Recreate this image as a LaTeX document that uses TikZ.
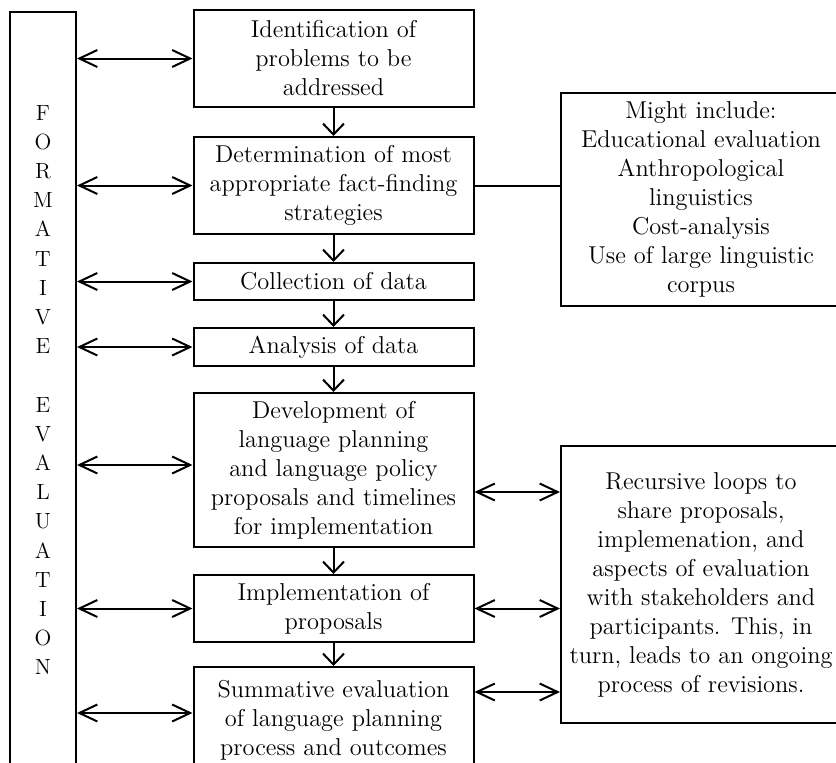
\documentclass[tikz,border=0pt]{standalone}
\usetikzlibrary{arrows.meta,calc}
\begin{document}
\begin{tikzpicture}[x=0.5pt, y=-0.5pt, every node/.style={font=\fontsize{12.2}{14.5}\selectfont},
		box/.style={draw, line width=1pt, align=center, minimum width=140pt, inner sep=0pt},
		dbl/.style={{Straight Barb[length=9pt,width=8.5pt]}-{Straight Barb[length=9pt,width=8.5pt]}, line width=1pt},
		nxt/.style={-{Straight Barb[length=5.5pt,width=10.5pt]}, line width=1pt}]
			\useasboundingbox (0,0) rectangle (836,762);

			\node[box, minimum width=33pt, minimum height=378pt, font=\fontsize{11}{14.6}\selectfont] (fe) at (43,390)
				{F\\O\\R\\M\\A\\T\\I\\V\\E\\[14.6pt]E\\V\\A\\L\\U\\A\\T\\I\\O\\N};

			\node[box, minimum height=48.5pt] (b1) at (333.5,58.5) {Identification of\\problems to be\\addressed};
			\node[box, minimum height=48.5pt] (b2) at (333.5,185.5) {Determination of most\\appropriate fact-finding\\strategies};
			\node[box, minimum height=18.5pt] (b3) at (333.5,281.5) {Collection of data};
			\node[box, minimum height=19pt] (b4) at (333.5,347) {Analysis of data};
			\node[box, minimum height=77pt] (b5) at (333.5,470) {Development of\\language planning\\and language policy\\proposals and timelines\\for implementation};
			\node[box, minimum height=33.5pt] (b6) at (333.5,608.5) {Implementation of\\proposals};
			\node[box, minimum height=53pt] (b7) at (333.5,720) {Summative evaluation\\of language planning\\process and outcomes};

			\node[box, minimum height=106.5pt] (inc) at (701,199.5) {Might include:\\Educational evaluation\\Anthropological\\linguistics\\Cost-analysis\\Use of large linguistic\\corpus};
			\node[box, minimum height=138.5pt] (rec) at (701,584.5) {Recursive loops to\\share proposals,\\implemenation, and\\aspects of evaluation\\with stakeholders and\\participants. This, in\\turn, leads to an ongoing\\process of revisions.};

			\foreach \a/\b in {b1/b2, b2/b3, b3/b4, b4/b5, b5/b6, b6/b7}
				\draw[nxt] (\a) -- (\b);

			\foreach \b in {b1, b2, b3, b4, b6}
				\draw[dbl] (fe.east |- \b) -- (\b);
			\draw[dbl] ($(fe.east |- b5)+(0,-5)$) -- ($(b5.west)+(0,-5)$);
			\draw[dbl] ($(fe.east |- b7)+(0,-7)$) -- ($(b7.west)+(0,-7)$);

			\draw[line width=1pt] (b2.east) -- (b2.east -| inc.west);
			\draw[dbl] ($(b5.east)+(0,22)$) -- ($(b5.east -| rec.west)+(0,22)$);
			\draw[dbl] (b6.east) -- (b6.east -| rec.west);
			\draw[dbl] ($(b7.east)+(0,-28)$) -- ($(b7.east -| rec.west)+(0,-28)$);
		\end{tikzpicture}
\end{document}
